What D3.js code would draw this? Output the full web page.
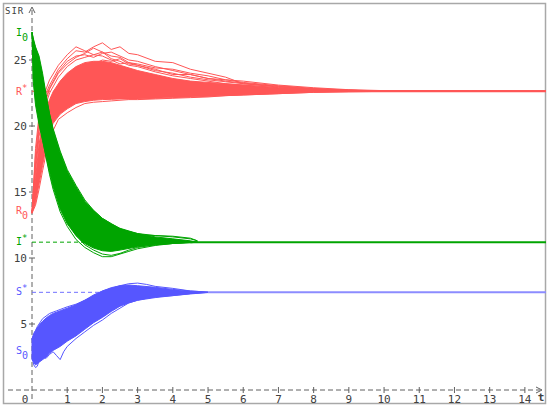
<!DOCTYPE html>
<html><head><meta charset="utf-8">
<script src="https://cdn.jsdelivr.net/npm/d3@7"></script>
<style>body{margin:0;background:#fff}svg{display:block}</style></head>
<body>
<svg id="c" width="550" height="411"></svg>
<script>
// ---------- data ----------
const xTicks = [1,2,3,4,5,6,7,8,9,10,11,12,13,14];
const yTicks = [5,10,15,20,25];
const eqI = 11.2, eqR = 22.63, eqS = 7.4;
const I0 = 27.1, R0 = 13.4, S0 = 2.8;

// dense bands (envelopes of the simulated trajectories)
const tRed = [0,0.1,0.2,0.3,0.4,0.5,0.6,0.8,1,1.25,1.5,1.75,2,2.25,2.5,3,3.5,4,4.5,5,6,7,8,9,10,12,14.6];
const redUpper = [13.4,16.0,18.6,20.2,21.3,22.0,22.6,23.4,24.0,24.5,24.8,24.9,24.9,24.8,24.6,24.2,23.9,23.6,23.4,23.3,23.1,22.9,22.8,22.7,22.66,22.64,22.63];
const redLower = [13.4,14.2,15.6,17.0,18.4,19.5,20.2,20.9,21.3,21.7,21.85,21.95,22.0,22.02,22.05,22.05,22.1,22.15,22.2,22.25,22.35,22.45,22.55,22.6,22.62,22.63,22.63];

const tGreen = [0,0.03,0.1,0.2,0.3,0.4,0.5,0.6,0.8,1,1.25,1.5,1.75,2,2.25,2.5,3,3.5,4,4.5,4.7];
const greenUpper = [27.1,26.7,26.0,25.3,24.0,22.4,20.9,19.7,18.0,16.6,15.4,14.3,13.6,13.0,12.6,12.25,11.85,11.6,11.45,11.3,11.2];
const greenLower = [27.1,23.5,21.6,20.1,18.9,17.7,16.5,15.4,13.7,12.6,11.7,11.1,10.75,10.55,10.5,10.6,10.85,11.0,11.1,11.15,11.2];

const tBlue = [0,0.1,0.2,0.3,0.4,0.5,0.6,0.8,1,1.25,1.5,1.75,2,2.25,2.5,2.75,3,3.5,4,4.5,5];
const blueUpper = [3.9,4.5,4.9,5.2,5.45,5.65,5.8,6.0,6.2,6.45,6.8,7.2,7.5,7.75,7.9,7.95,7.9,7.78,7.62,7.5,7.42];
const blueLower = [2.3,1.9,2.1,2.3,2.5,2.8,3.0,3.3,3.7,4.1,4.6,5.1,5.5,5.95,6.35,6.6,6.8,7.0,7.15,7.28,7.38];

// individual outlying trajectories
const tRT = [0,0.1,0.2,0.3,0.4,0.5,0.75,1,1.25,1.5,1.75,2,2.25,2.5,2.75,3,3.5,4,4.5,5,5.5,6,7,8,9,10,12,14.6];
const redTraj1 = [13.4,17.8,20.4,21.6,22.5,23.1,24.3,25.1,25.7,25.6,26.0,26.3,25.8,26.0,25.5,25.4,24.9,24.8,24.3,24.0,23.7,23.2,22.95,22.8,22.7,22.66,22.64,22.63];
const redTraj2 = [13.4,18.3,20.8,22.0,22.8,23.5,24.6,25.4,26.0,25.7,25.4,25.6,25.1,24.9,24.6,24.5,24.1,23.8,23.6,23.4,23.2,23.1,22.9,22.75,22.7,22.66,22.64,22.63];
const redTraj3 = [13.4,16.9,19.6,21.0,22.0,22.8,24.0,24.7,25.2,25.5,25.9,25.6,25.3,25.2,24.8,24.6,24.2,24.0,23.7,23.5,23.35,23.2,23.0,22.8,22.7,22.66,22.64,22.63];
const redTraj4 = [13.4,14.0,15.2,16.6,17.9,19.1,20.5,21.0,21.4,21.7,21.8,21.85,21.9,21.95,22.0,22.0,22.05,22.1,22.15,22.2,22.3,22.35,22.45,22.55,22.6,22.62,22.63,22.63];
const redTraj5 = [13.4,17.2,19.9,21.2,22.2,22.9,24.1,24.9,25.3,25.4,25.2,25.5,25.6,25.3,25.0,24.9,24.5,24.2,23.9,23.6,23.4,23.25,23.0,22.8,22.7,22.66,22.64,22.63];
const redTraj6 = [13.4,16.5,19.2,20.7,21.7,22.5,23.7,24.5,25.0,25.2,25.4,25.3,25.0,24.7,24.8,24.7,24.4,24.3,24.0,23.8,23.5,23.3,23.05,22.85,22.72,22.66,22.64,22.63];
const redTraj7 = [13.4,15.5,17.8,19.6,20.8,21.6,22.8,23.6,24.2,24.6,24.7,25.0,24.9,25.1,24.7,24.6,24.3,23.9,23.9,23.6,23.5,23.4,23.1,22.9,22.75,22.68,22.64,22.63];

const tGT = [0,0.05,0.1,0.2,0.3,0.4,0.5,0.6,0.8,1,1.25,1.5,1.75,2,2.25,2.5,2.75,3,3.5,4,4.5,4.7];
const greenTraj1 = [27.1,24.0,22.3,20.4,19.0,17.6,16.3,15.2,13.5,12.4,11.4,10.8,10.4,10.1,10.1,10.3,10.5,10.7,10.95,11.1,11.18,11.2];
const greenTraj2 = [27.1,25.2,23.6,21.3,19.6,18.2,17.0,15.9,14.1,12.8,11.7,11.0,10.6,10.3,10.2,10.35,10.6,10.8,11.0,11.1,11.2,11.2];
const greenTraj3 = [27.1,26.4,25.9,25.0,23.7,22.2,20.9,19.8,18.1,16.7,15.5,14.4,13.6,13.0,12.6,12.2,12.0,11.85,11.7,11.6,11.45,11.3];
const greenTraj4 = [27.1,26.2,25.5,24.4,23.0,21.6,20.3,19.1,17.4,16.0,14.8,13.8,13.0,12.4,12.0,11.8,11.7,11.75,11.7,11.65,11.5,11.3];

const tBT = [0,0.05,0.1,0.15,0.2,0.3,0.4,0.5,0.6,0.7,0.8,0.9,1,1.25,1.5,1.75,2,2.25,2.5,2.75,3,3.25,3.5,4,4.5,5];
const blueTraj1 = [2.6,1.9,1.7,1.8,2.2,2.5,2.4,2.7,2.9,2.6,2.3,2.9,3.3,3.9,4.4,4.9,5.3,5.8,6.2,6.6,6.8,6.95,7.05,7.15,7.3,7.4];
const blueTraj2 = [3.8,4.3,4.5,4.8,5.0,5.4,5.6,5.8,5.9,6.0,6.1,6.2,6.3,6.5,6.8,7.1,7.5,7.7,7.9,8.05,8.1,8.0,7.85,7.7,7.5,7.42];

// ---------- drawing ----------
const svg = d3.select('#c');
const x = d3.scaleLinear().domain([0,14.6]).range([32,546]);
const y = d3.scaleLinear().domain([0,25]).range([390,60]);
const RED='#ff5656', GREEN='#00a400', BLUE='#5656ff';
const MONO = "'DejaVu Sans Mono', 'Liberation Mono', monospace";

svg.append('rect').attr('x',3.5).attr('y',3.5).attr('width',542).attr('height',400)
  .attr('fill','none').attr('stroke','#a8a8a8').attr('stroke-width',1.5);

const axisCol = '#606060';
svg.append('line').attr('x1',x(0)).attr('x2',x(0)).attr('y1',10).attr('y2',402)
  .attr('stroke',axisCol).attr('stroke-dasharray','5,3');
svg.append('line').attr('x1',8).attr('x2',540).attr('y1',y(0)).attr('y2',y(0))
  .attr('stroke',axisCol).attr('stroke-dasharray','5,3');
svg.append('path').attr('d',`M${x(0)-3},13 L${x(0)},7 L${x(0)+3},13`).attr('fill','none').attr('stroke',axisCol);
svg.append('path').attr('d',`M536,${y(0)-3} L542,${y(0)} L536,${y(0)+3}`).attr('fill','none').attr('stroke',axisCol);
svg.selectAll('.yt').data(yTicks).enter().append('line')
  .attr('x1',x(0)-3).attr('x2',x(0)+3).attr('y1',d=>y(d)).attr('y2',d=>y(d)).attr('stroke',axisCol);
svg.selectAll('.xt').data(xTicks).enter().append('line')
  .attr('x1',d=>x(d)).attr('x2',d=>x(d)).attr('y1',y(0)-3).attr('y2',y(0)+3).attr('stroke',axisCol);
svg.selectAll('.yl').data(yTicks).enter().append('text')
  .attr('x',x(0)-5).attr('y',d=>y(d)+4).attr('text-anchor','end')
  .attr('font-family',MONO).attr('font-size',11).attr('fill','#404040').text(d=>d);
svg.selectAll('.xl').data(xTicks).enter().append('text')
  .attr('x',d=>x(d)).attr('y',403).attr('text-anchor','middle')
  .attr('font-family',MONO).attr('font-size',11).attr('fill','#404040').text(d=>d);
svg.append('text').attr('x',25).attr('y',403).attr('text-anchor','middle')
  .attr('font-family',MONO).attr('font-size',11).attr('fill','#404040').text('0');
svg.append('text').attr('x',541).attr('y',401).attr('text-anchor','middle')
  .attr('font-family',MONO).attr('font-size',11).attr('font-weight','bold').attr('fill','#404040').text('t');
svg.append('text').attr('x',5).attr('y',14)
  .attr('font-family',MONO).attr('font-size',9).attr('letter-spacing',1).attr('fill','#404040').text('SIR');

function hline(v,t0,t1,col,dash,w){
  const l = svg.append('line').attr('x1',x(t0)).attr('x2',x(t1)).attr('y1',y(v)).attr('y2',y(v))
    .attr('stroke',col).attr('stroke-width',w||1);
  if(dash) l.attr('stroke-dasharray',dash);
}
hline(eqR,0,0.7,RED,'4,3');
hline(eqI,0,1.6,GREEN,'4,3');
hline(eqS,0,2.2,'#7070ff','4,3');

const line = d3.line().x(d=>x(d[0])).y(d=>y(d[1]));
const area = d3.area().x(d=>x(d[0])).y0(d=>y(d[1])).y1(d=>y(d[2]));
function band(ts,lo,hi,col){
  svg.append('path').datum(ts.map((t,i)=>[t,lo[i],hi[i]])).attr('d',area)
    .attr('fill',col).attr('stroke',col).attr('stroke-width',1);
}
function traj(ts,vs,col){
  svg.append('path').datum(ts.map((t,i)=>[t,vs[i]])).attr('d',line)
    .attr('fill','none').attr('stroke',col).attr('stroke-width',1);
}

band(tRed,redLower,redUpper,RED);
[redTraj1,redTraj2,redTraj3,redTraj4,redTraj5,redTraj6,redTraj7].forEach(v=>traj(tRT,v,RED));
hline(eqR,8,14.6,RED,null,2);
band(tGreen,greenLower,greenUpper,GREEN);
[greenTraj1,greenTraj2,greenTraj3,greenTraj4].forEach(v=>traj(tGT,v,GREEN));
hline(eqI,4.5,14.6,GREEN,null,2);
band(tBlue,blueLower,blueUpper,BLUE);
[blueTraj1,blueTraj2].forEach(v=>traj(tBT,v,BLUE));
hline(eqS,5,14.6,'#8c8cff',null,2);

function lab(xp,yp,main,sub,sup,col){
  const t = svg.append('text').attr('x',xp).attr('y',yp).attr('font-family',MONO)
    .attr('font-size',10).attr('fill',col);
  t.append('tspan').text(main);
  if(sub) t.append('tspan').attr('dy',5).attr('font-size',10).text(sub);
  if(sup) t.append('tspan').attr('dy',-4).attr('font-size',9).text(sup);
}
lab(16,y(I0)+4,'I','0',null,GREEN);
lab(16,y(eqR)+4,'R',null,'*',RED);
lab(16,y(R0)+1,'R','0',null,RED);
lab(16,y(eqI)+3,'I',null,'*',GREEN);
lab(16,y(eqS)+3,'S',null,'*',BLUE);
lab(16,y(S0)+1,'S','0',null,BLUE);
</script>
</body></html>
